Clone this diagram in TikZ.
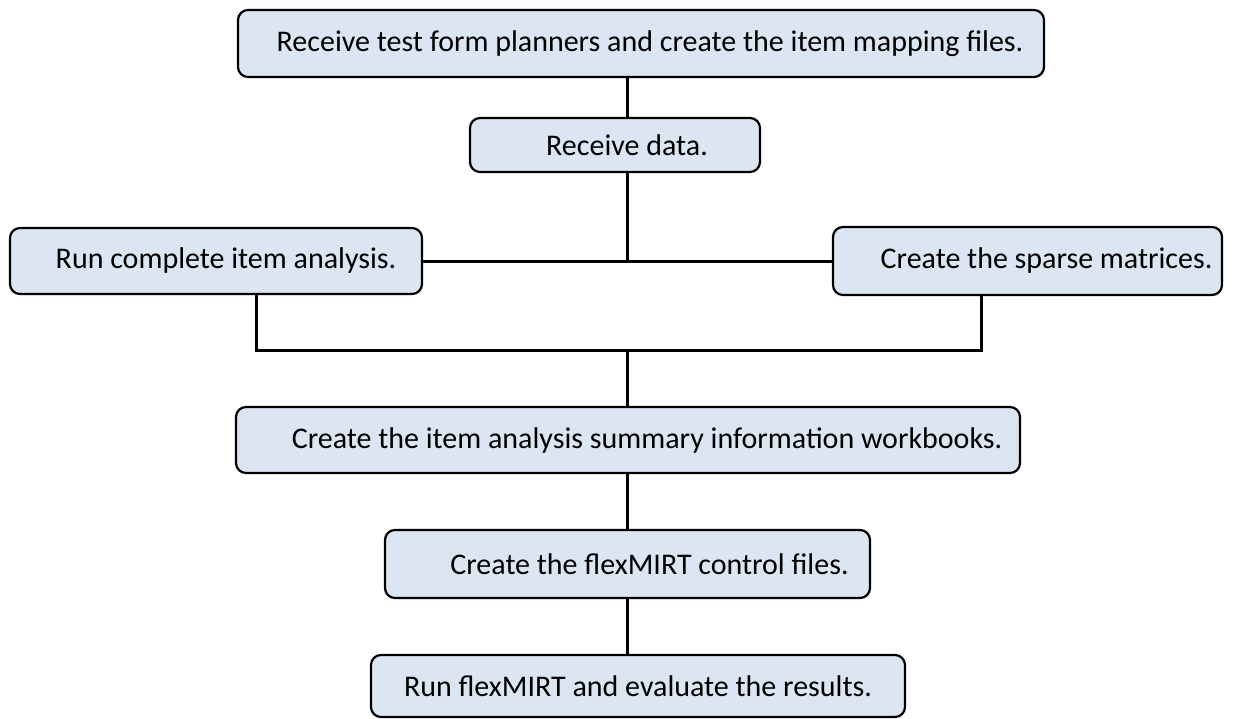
\documentclass[tikz,border=0pt]{standalone}
\usepackage{fontspec}
\setmainfont{Carlito}
\definecolor{boxblue}{HTML}{DCE6F2}

\begin{document}
\begin{tikzpicture}[x=1pt,y=-1pt,
  stepbox/.style={draw, line width=2.2pt, rounded corners=10pt, fill=boxblue,
    inner sep=0pt, font=\fontsize{30}{36}\selectfont},
  link/.style={line width=3pt}]
  \useasboundingbox (0,0) rectangle (1233,719);
  \coordinate (spine) at (627,0);
  \coordinate (jl) at (256,350);
  \coordinate (jr) at (981,350);
  \node[stepbox, minimum width=806pt, minimum height=67pt] (b1) at (641,43.5)
    {\hspace*{18pt}Receive test form planners and create the item mapping files.};
  \node[stepbox, minimum width=290pt, minimum height=54pt] (b2) at (615,145)
    {\hspace*{24pt}Receive data.};
  \node[stepbox, minimum width=412pt, minimum height=66pt] (b3) at (216,261)
    {\hspace*{20pt}Run complete item analysis.};
  \node[stepbox, minimum width=389pt, minimum height=68pt] (b4) at (1027.5,261)
    {\hspace*{38pt}Create the sparse matrices.};
  \node[stepbox, minimum width=784pt, minimum height=66pt] (b5) at (628,440)
    {\hspace*{38pt}Create the item analysis summary information workbooks.};
  \node[stepbox, minimum width=485pt, minimum height=68pt] (b6) at (627.5,564)
    {\hspace*{44pt}Create the flexMIRT control files.};
  \node[stepbox, minimum width=534pt, minimum height=62pt] (b7) at (638,686)
    {Run flexMIRT and evaluate the results.};
  % connectors
  \draw[link] (b1.south -| spine) -- (b2.north -| spine);
  \draw[link] (b2.south -| spine) -- (b3.east -| spine);
  \draw[link] (b3.east) -- (b4.west);
  \draw[link] (b3.south -| jl) -- (jl) -- (jr) -- (b4.south -| jr);
  \draw[link] (jl -| spine) -- (b5.north -| spine);
  \draw[link] (b5.south -| spine) -- (b6.north -| spine);
  \draw[link] (b6.south -| spine) -- (b7.north -| spine);
\end{tikzpicture}
\end{document}
